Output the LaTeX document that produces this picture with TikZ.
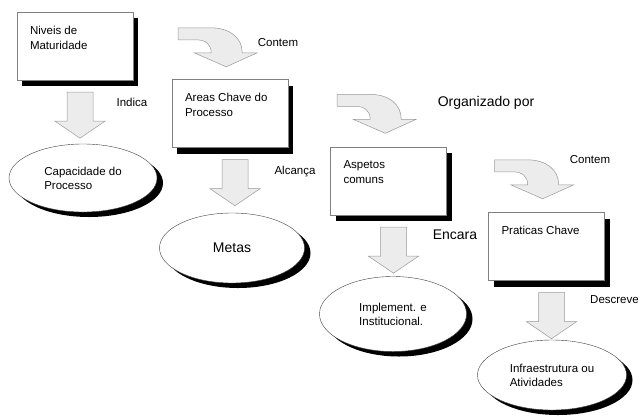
\documentclass[tikz,border=0pt]{standalone}
\usepackage{fontspec}
\setmainfont{Liberation Sans}
\usetikzlibrary{shapes.geometric,shadows,calc}

\def\dx{5}
\def\dy{12}
\newcommand{\boxlines}[1]{\parbox[t][40pt][t]{90pt}{#1}}

\begin{document}
\begin{tikzpicture}[x=1pt,y=-1pt]
  \tikzset{
    box/.style={draw=gray,fill=white,minimum width=116pt,minimum height=68pt,inner xsep=13pt,inner ysep=0pt,
      font=\fontsize{11.5}{15}\selectfont,drop shadow={shadow xshift=5pt,shadow yshift=-6pt,fill=black,opacity=1}},
    oval/.style={ellipse,draw=black!75,fill=white,align=left,font=\fontsize{11.5}{14}\selectfont,
      drop shadow={shadow xshift=6pt,shadow yshift=-5pt,fill=black,opacity=1}},
    word/.style={font=\fontsize{11.5}{14}\selectfont},
    bigword/.style={font=\fontsize{14}{17}\selectfont},
    block/.style={fill=gray!15,draw=gray!80,line width=.5pt},
    down/.pic={\path[block] (-13,0) -- (13,0) -- (13,29) -- (25,29) -- (0,46) -- (-25,29) -- (-13,29) -- cycle;},
    turn/.pic={\path[block] (0,0) -- (32,0) .. controls (52,0) and (64,10) .. (64,25) -- (79,25) -- (48,39)
      -- (16,25) -- (33,25) .. controls (33,17) and (28,12) .. (18,12) -- (0,12) -- cycle;}
  }
  \useasboundingbox (0,0) rectangle (642,416);

  % caixas
  \node[box] (niveis) at (75,46) {\boxlines{Niveis de\\Maturidade}};
  \node[box] (areas) at (230,113.5) {\boxlines{Areas Chave do\\Processo}};
  \node[box] (aspetos) at (388.5,181) {\boxlines{Aspetos\\comuns}};
  \node[box] (praticas) at (546.5,246.5) {\boxlines{Praticas Chave}};

  % elipses
  \node[oval,minimum width=148pt,minimum height=68pt] (capacidade) at (83,178) {Capacidade do\\Processo};
  \node[oval,minimum width=145pt,minimum height=70pt,font=\fontsize{14}{17}\selectfont] (metas) at (232,248) {Metas};
  \node[oval,minimum width=147pt,minimum height=75pt] (implement) at (393,314) {Implement. e\\Institucional.};
  \node[oval,minimum width=149pt,minimum height=70pt] (infra) at (552,375) {Infraestrutura ou\\Atividades};

  % setas
  \foreach \src in {niveis,areas,aspetos,praticas}
    \pic at ($(\src.south)+(\dx,\dy)$) {down};
  \pic at ($(niveis.north east)+(45,16)$) {turn};
  \pic at ($(areas.north east)+(49,15)$) {turn};
  \pic at ($(aspetos.north east)+(48,13)$) {turn};

  \node[word] (contem1) at (278,43) {Contem};
  \node[word] (indica) at (132,102) {Indica};
  \node[word] (alcanca) at (295,172) {Alcança};
  \node[bigword] (organizado) at (486,103) {Organizado por};
  \node[word] (contem2) at (590,160) {Contem};
  \node[bigword] (encara) at (455,235) {Encara};
  \node[word,anchor=west,inner xsep=0pt] (descreve) at (590,300) {Descreve};
\end{tikzpicture}
\end{document}
